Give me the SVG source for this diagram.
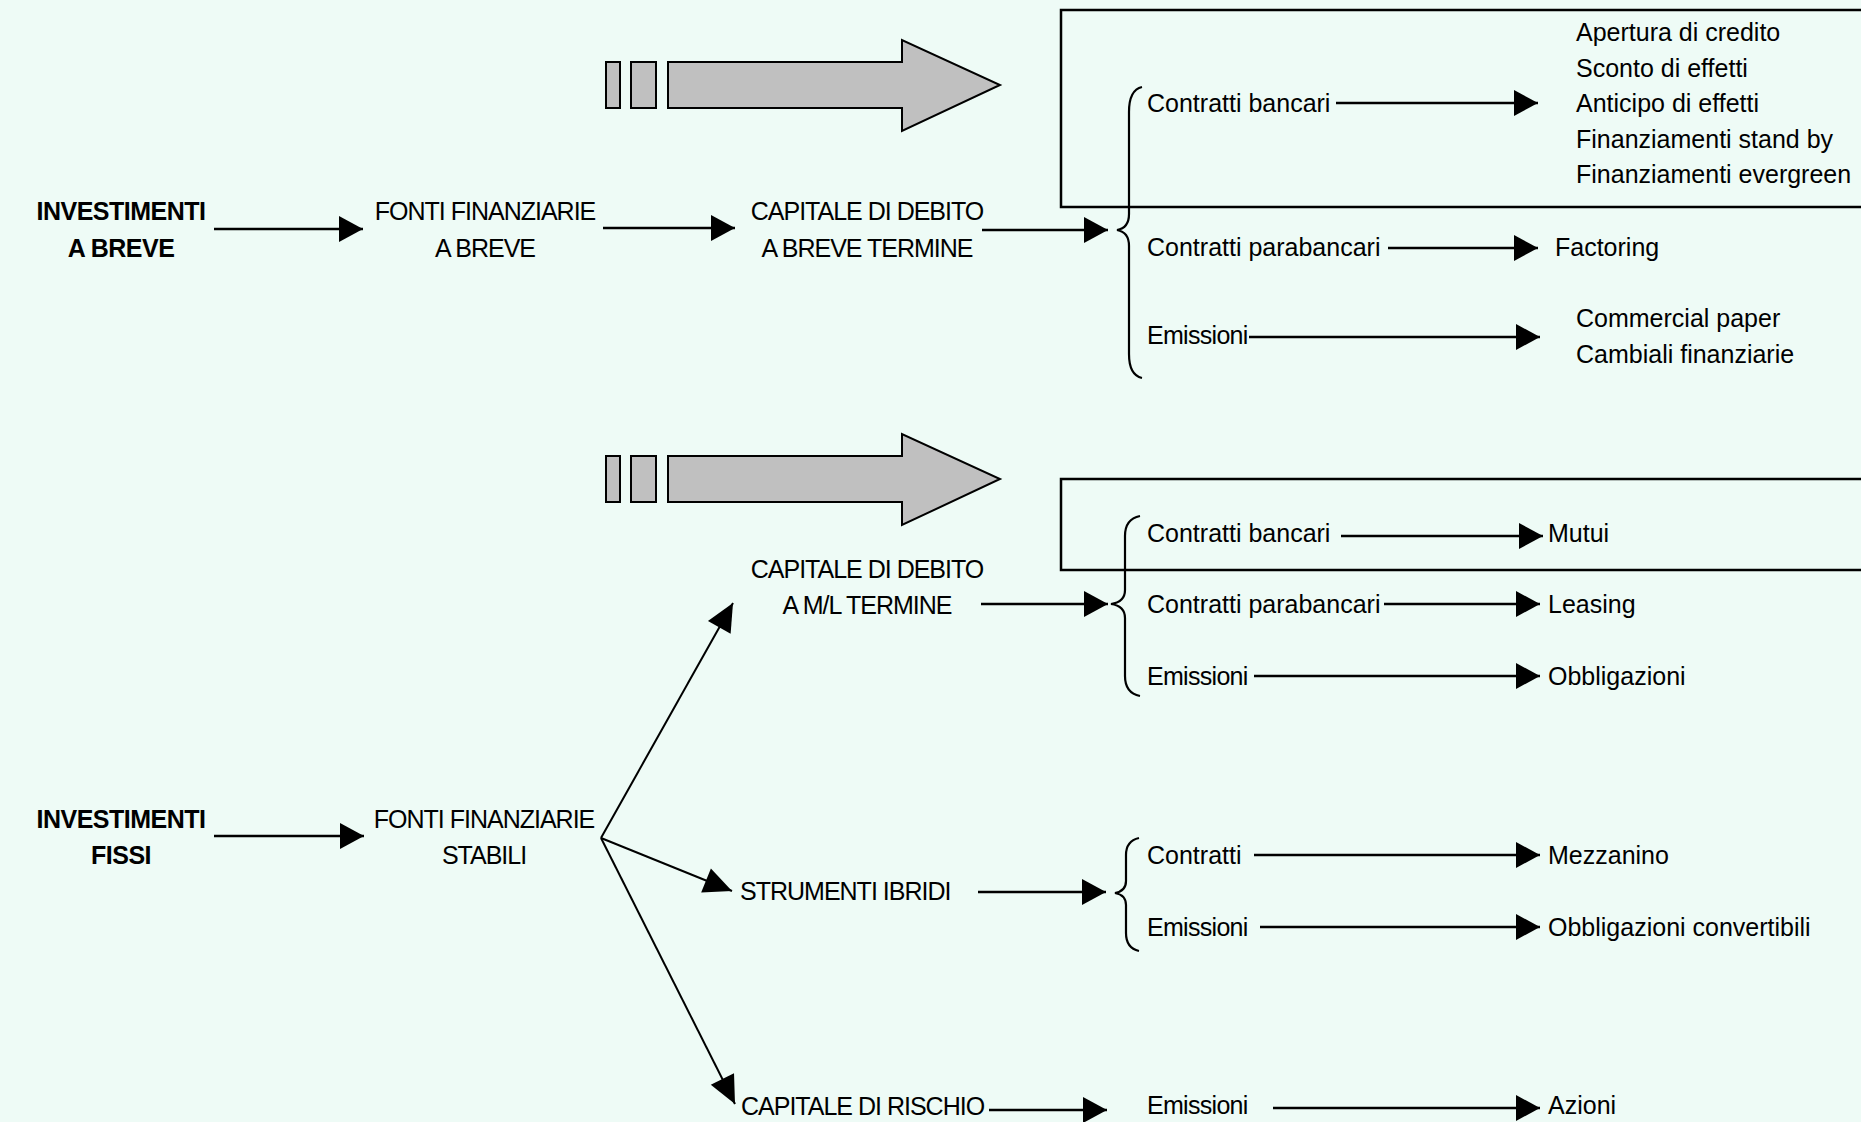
<svg xmlns="http://www.w3.org/2000/svg" width="1861" height="1122" viewBox="0 0 1861 1122">
<defs>
<marker id="ah" markerUnits="userSpaceOnUse" markerWidth="24" markerHeight="26" refX="24" refY="13" orient="auto" overflow="visible"><path d="M0,0 L24,13 L0,26 Z" fill="#000"/></marker>
<marker id="ahd" markerUnits="userSpaceOnUse" markerWidth="28" markerHeight="26" refX="28" refY="13" orient="auto" overflow="visible"><path d="M0,0 L28,13 L0,26 Z" fill="#000"/></marker>
</defs>
<style>
text{font-family:"Liberation Sans",Arial,sans-serif;font-size:25px;fill:#000}
.b{font-weight:bold;letter-spacing:-0.5px}
.u{letter-spacing:-1px}
.e{letter-spacing:-0.7px}
.m{text-anchor:middle}
.c{stroke:#000;stroke-width:2.6;fill:none;marker-end:url(#ah)}
.d{stroke:#000;stroke-width:2;fill:none;marker-end:url(#ahd)}
.br{stroke:#000;stroke-width:2.2;fill:none}
.box{stroke:#000;stroke-width:2.5;fill:none}
.g{fill:#C0C0C0;stroke:#000;stroke-width:2}
</style>
<rect x="0" y="0" width="1861" height="1122" fill="#EEFBF6"/>

<g id="box1"><rect class="box" x="1061" y="10" width="830" height="197"/></g>
<g id="box2"><rect class="box" x="1061" y="479" width="830" height="91"/></g>

<g id="banner1">
<rect class="g" x="606" y="62" width="14" height="46"/>
<rect class="g" x="631" y="62" width="25" height="46"/>
<polygon class="g" points="668,62 902,62 902,40 1000,85 902,131 902,108 668,108"/>
</g>
<g id="banner2">
<rect class="g" x="606" y="456" width="14" height="46"/>
<rect class="g" x="631" y="456" width="25" height="46"/>
<polygon class="g" points="668,456 902,456 902,434 1000,479 902,525 902,502 668,502"/>
</g>

<g id="connectors">
<line class="c" x1="214" y1="229" x2="363" y2="229"/>
<line class="c" x1="603" y1="228" x2="735" y2="228"/>
<line class="c" x1="982" y1="230" x2="1108" y2="230"/>
<line class="c" x1="1336" y1="103" x2="1538" y2="103"/>
<line class="c" x1="1388" y1="248" x2="1538" y2="248"/>
<line class="c" x1="1249" y1="337" x2="1540" y2="337"/>
<line class="c" x1="981" y1="604" x2="1108" y2="604"/>
<line class="c" x1="1341" y1="536" x2="1543" y2="536"/>
<line class="c" x1="1384" y1="604" x2="1540" y2="604"/>
<line class="c" x1="1254" y1="676" x2="1540" y2="676"/>
<line class="c" x1="214" y1="836" x2="364" y2="836"/>
<line class="d" x1="601" y1="838" x2="733" y2="603"/>
<line class="d" x1="601" y1="838" x2="732" y2="891"/>
<line class="d" x1="601" y1="838" x2="735" y2="1104"/>
<line class="c" x1="978" y1="892" x2="1106" y2="892"/>
<line class="c" x1="1254" y1="855" x2="1540" y2="855"/>
<line class="c" x1="1260" y1="927" x2="1540" y2="927"/>
<line class="c" x1="989" y1="1110" x2="1107" y2="1110"/>
<line class="c" x1="1273" y1="1108" x2="1540" y2="1108"/>
<path class="br" d="M1142,87 Q1129,90 1129,112 L1129,214 Q1129,228 1117,230 Q1129,232 1129,246 L1129,354 Q1129,375 1142,378"/>
<path class="br" d="M1140,516 Q1125,519 1125,536 L1125,590 Q1125,602 1111,604 Q1125,606 1125,618 L1125,676 Q1125,693 1140,696"/>
<path class="br" d="M1139,838 Q1126,841 1126,855 L1126,881 Q1126,891 1115,893 Q1126,895 1126,905 L1126,933 Q1126,948 1139,951"/>
</g>

<g id="inv-breve"><text class="b m" x="121" y="220">INVESTIMENTI</text><text class="b m" x="121" y="257">A BREVE</text></g>
<g id="fonti-breve"><text class="u m" x="485" y="220">FONTI FINANZIARIE</text><text class="u m" x="485" y="257">A BREVE</text></g>
<g id="cap-debito-breve"><text class="u m" x="867" y="220">CAPITALE DI DEBITO</text><text class="u m" x="867" y="257">A BREVE TERMINE</text></g>

<g id="b1-bancari"><text x="1147" y="112">Contratti bancari</text></g>
<g id="b1-bancari-out">
<text x="1576" y="41">Apertura di credito</text>
<text x="1576" y="77">Sconto di effetti</text>
<text x="1576" y="112">Anticipo di effetti</text>
<text x="1576" y="148">Finanziamenti stand by</text>
<text x="1576" y="183">Finanziamenti evergreen</text>
</g>
<g id="b1-parabancari"><text x="1147" y="256">Contratti parabancari</text></g>
<g id="b1-factoring"><text x="1555" y="256">Factoring</text></g>
<g id="b1-emissioni"><text class="e" x="1147" y="344">Emissioni</text></g>
<g id="b1-emissioni-out"><text x="1576" y="327">Commercial paper</text><text x="1576" y="363">Cambiali finanziarie</text></g>

<g id="cap-debito-ml"><text class="u m" x="867" y="578">CAPITALE DI DEBITO</text><text class="u m" x="867" y="614">A M/L TERMINE</text></g>
<g id="b2-bancari"><text x="1147" y="542">Contratti bancari</text></g>
<g id="b2-mutui"><text x="1548" y="542">Mutui</text></g>
<g id="b2-parabancari"><text x="1147" y="613">Contratti parabancari</text></g>
<g id="b2-leasing"><text x="1548" y="613">Leasing</text></g>
<g id="b2-emissioni"><text class="e" x="1147" y="685">Emissioni</text></g>
<g id="b2-obbligazioni"><text x="1548" y="685">Obbligazioni</text></g>

<g id="inv-fissi"><text class="b m" x="121" y="828">INVESTIMENTI</text><text class="b m" x="121" y="864">FISSI</text></g>
<g id="fonti-stabili"><text class="u m" x="484" y="828">FONTI FINANZIARIE</text><text class="u m" x="484" y="864">STABILI</text></g>

<g id="strumenti-ibridi"><text class="u" x="740" y="900">STRUMENTI IBRIDI</text></g>
<g id="b3-contratti"><text x="1147" y="864">Contratti</text></g>
<g id="b3-mezzanino"><text x="1548" y="864">Mezzanino</text></g>
<g id="b3-emissioni"><text class="e" x="1147" y="936">Emissioni</text></g>
<g id="b3-obbl-conv"><text x="1548" y="936">Obbligazioni convertibili</text></g>

<g id="cap-rischio"><text class="u" x="741" y="1115">CAPITALE DI RISCHIO</text></g>
<g id="b4-emissioni"><text class="e" x="1147" y="1114">Emissioni</text></g>
<g id="b4-azioni"><text x="1548" y="1114">Azioni</text></g>
</svg>
